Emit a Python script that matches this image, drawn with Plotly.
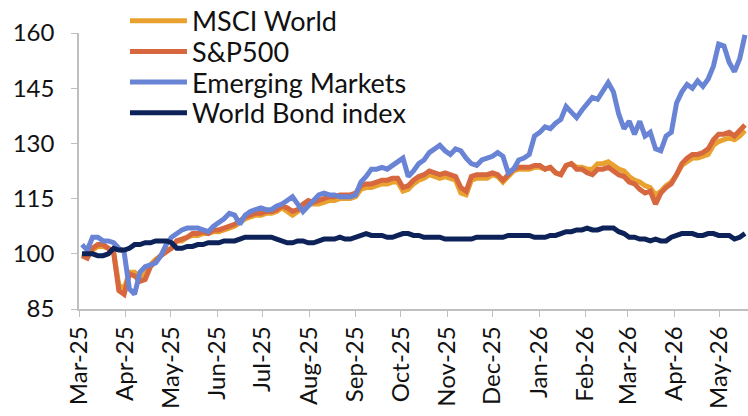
import pandas as pd
import plotly.graph_objects as go

# twice-weekly observations
dates = pd.date_range("2025-03-03", periods=127, freq="84h")

msci = [100, 99.5, 101, 102, 102, 101.5, 100.5, 91.5, 90.5, 95,
        95, 93.5, 94.5, 97, 98.5, 99.5, 101, 101.5, 103.5, 103.5,
        104.5, 105, 105, 105.5, 105.5, 106, 106, 106.5, 107, 107.5,
        108.5, 109.5, 110, 110.5, 110.5, 111, 111, 111.5, 112.5, 111.5,
        110.5, 111.5, 113, 113.5, 113.5, 113.5, 114, 114.5, 114.5, 115,
        115, 115, 115.5, 117.5, 118, 118, 118.5, 119, 119, 119.5,
        119.5, 117, 117.5, 119, 120, 120.5, 121.5, 121, 120.5, 121,
        120.5, 120, 116.5, 116, 120, 120.5, 120.5, 120.5, 121.5, 121,
        119.5, 121, 122.5, 123, 123, 123, 123.5, 123.5, 123, 123.5,
        122, 121.5, 124, 124.5, 123.5, 123.5, 123, 123, 124.5, 124.5,
        125, 124, 123, 122.5, 121, 120, 119.5, 118.5, 118, 116,
        117, 118.5, 119.5, 121.5, 124, 125, 126, 126, 126.5, 127,
        129.5, 130.5, 131, 131.5, 131, 132, 133.5]

sp500 = [99.5, 98.8, 101.5, 102.5, 102.5, 101.5, 100.5, 90, 89, 94.5,
         94, 92.5, 93, 96.5, 98, 99.5, 100.5, 101.5, 103.5, 104,
         104.5, 105.5, 105.5, 106, 105.5, 106.5, 106.5, 107, 107.5, 108,
         109, 110, 110.5, 111, 111, 111.5, 111.5, 112, 113, 112.5,
         111.5, 112, 113.5, 114.5, 114, 114.5, 115, 115.5, 115.5, 116,
         116, 116, 116.5, 118.5, 119, 119, 119.5, 120, 120, 120.5,
         120.5, 118, 118.5, 120, 121, 121.5, 122.5, 122, 121.5, 122,
         121.5, 121, 118, 117, 121, 121.5, 121.5, 121.5, 122, 121.5,
         120, 121.5, 123, 123.5, 123.5, 123.5, 124, 124, 123, 123.5,
         122, 121.5, 124, 124.5, 123, 123, 122, 121.5, 123, 123,
         123.5, 122.5, 121.5, 121, 119.5, 119, 117.5, 116.5, 117, 113.5,
         116.5, 118, 119, 121.5, 124.5, 126, 127, 127, 127.5, 128.5,
         131, 132.5, 132.5, 133, 132, 133.5, 135]

em = [102.5, 101, 104.5, 104.5, 103.5, 103.5, 103, 101.5, 100.5, 90.5,
      89, 95, 96.5, 97, 97.5, 99.5, 102.5, 104.5, 105.5, 106.5,
      107, 107, 107, 106.5, 106, 107.5, 108.5, 109.5, 111, 110.5,
      108, 110.5, 111.5, 112, 112.5, 112, 112, 113, 113.5, 114.5,
      115.5, 113.5, 111.5, 113, 114.5, 116, 116.5, 116, 116, 115.5,
      115.5, 115.5, 116, 119.5, 121, 123, 123, 123.5, 123, 124,
      125, 126, 121, 122.5, 124.5, 125.5, 127.5, 128.5, 129.5, 128,
      127, 128.5, 128, 126, 124.5, 124, 125.5, 126, 126.5, 127.5,
      126.5, 122, 123, 125.5, 126, 127, 132, 133, 134.5, 134,
      135.5, 136.5, 140, 138.5, 137, 139, 141, 142.5, 142, 144,
      146.5, 144, 138, 134, 136, 132.5, 136, 132, 133, 128.5,
      128, 132, 133, 141, 144, 146, 145, 147, 145.5, 147.5,
      151, 157, 156.5, 152, 149.5, 153, 159.5]

bond = [100, 100, 100, 99.5, 99.5, 100, 101.5, 101, 101, 101.5,
        102.5, 102.5, 103, 103, 103.5, 103.5, 103.5, 103, 101.5, 101.5,
        102, 102, 102.5, 102.5, 103, 103, 103, 103.5, 103.5, 103.5,
        104, 104.5, 104.5, 104.5, 104.5, 104.5, 104.5, 104, 103.5, 103,
        103, 103.5, 103.5, 103, 103, 103.5, 104, 104, 104, 104.5,
        104, 104, 104.5, 105, 105.5, 105, 105, 105, 104.5, 104.5,
        105, 105.5, 105.5, 105, 105, 104.5, 104.5, 104.5, 104.5, 104,
        104, 104, 104, 104, 104, 104.5, 104.5, 104.5, 104.5, 104.5,
        104.5, 105, 105, 105, 105, 105, 104.5, 104.5, 104.5, 105,
        105, 105.5, 106, 106, 106.5, 106.5, 107, 106.5, 106.5, 107,
        107, 107, 106, 105.5, 104.5, 104.5, 104, 104, 103.5, 104,
        103.5, 103.5, 104.5, 105, 105.5, 105.5, 105.5, 105, 105, 105.5,
        105.5, 105, 105, 105, 104, 104.5, 105.5]

series_names = ["MSCI World", "S&P500", "Emerging Markets", "World Bond index"]
series_values = [msci, sp500, em, bond]
series_colors = ["#E9A230", "#D6673E", "#6A84D5", "#0C2258"]

yticks = [85, 100, 115, 130, 145, 160]

fig = go.Figure()
for name, vals, color in zip(series_names, series_values, series_colors):
    fig.add_trace(go.Scatter(x=dates[:len(vals)], y=vals, name=name,
                             mode="lines", line=dict(color=color, width=5),
                             showlegend=False))

# Custom legend (line sample + label) in paper coordinates
leg_x0, leg_x1, leg_tx = 0.0762, 0.1614, 0.166
leg_y0, leg_dy = 1.0446, 0.1112
for k, (name, color) in enumerate(zip(series_names, series_colors)):
    yy = leg_y0 - k * leg_dy
    fig.add_shape(type="line", xref="paper", yref="paper",
                  x0=leg_x0, x1=leg_x1, y0=yy, y1=yy,
                  line=dict(color=color, width=5))
    fig.add_annotation(xref="paper", yref="paper", x=leg_tx, y=yy,
                       text=name, showarrow=False, xanchor="left",
                       yanchor="middle", font=dict(size=27, color="#111111"))

font = "Lato, 'Open Sans', sans-serif"
fig.update_layout(
    width=748, height=416,
    margin=dict(l=79, r=0, t=33, b=107, autoexpand=False),
    paper_bgcolor="white", plot_bgcolor="white",
    font=dict(family=font, size=24, color="#111111"),
    showlegend=False,
    xaxis=dict(type="date", range=["2025-03-01", "2026-05-20"],
               tick0="2025-03-01", dtick="M1", tickformat="%b-%y",
               tickangle=-90, showgrid=False, showline=True,
               linecolor="#BFBFBF", linewidth=1.5, ticks="outside",
               ticklen=6, tickcolor="#BFBFBF", tickfont=dict(size=24),
               automargin=False),
    yaxis=dict(range=[85, 160], tickvals=yticks, showgrid=False,
               showline=True, linecolor="#BFBFBF", linewidth=1.5,
               ticks="outside", ticklen=6, tickcolor="#BFBFBF",
               tickfont=dict(size=24), zeroline=False, automargin=False,
               ticklabelstandoff=12),
)

fig.write_html("out.html",
               config={"displayModeBar": False},
               post_script="document.body.style.margin='0';")
